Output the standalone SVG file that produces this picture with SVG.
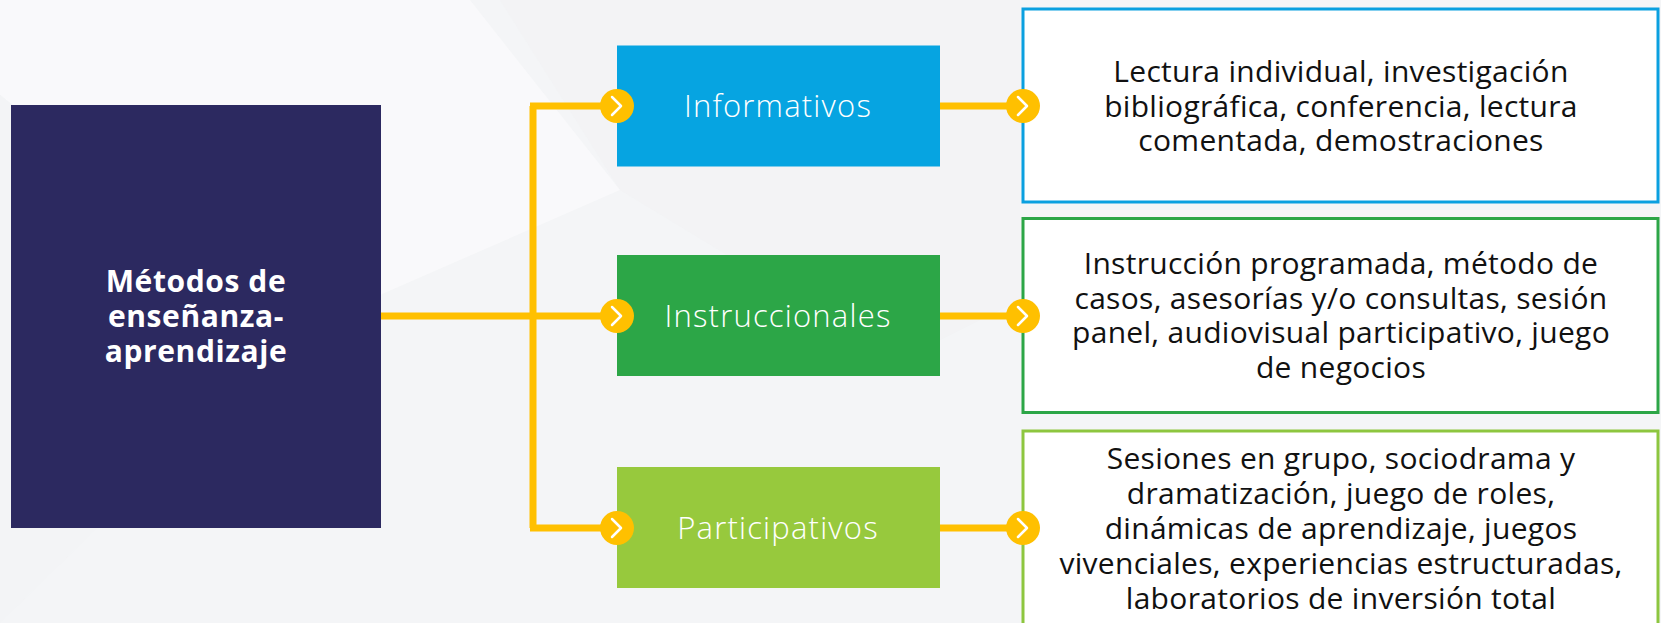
<svg xmlns="http://www.w3.org/2000/svg" width="1661" height="623" viewBox="0 0 1661 623">
<style>
.bg{fill:#F4F5F7}
.conn{stroke:#FFC000;stroke-width:7;fill:none}
.dot{fill:#FFC000}
.chev{stroke:#FFFFFF;stroke-width:2.5;fill:none;stroke-linecap:round;stroke-linejoin:round}
.main{font-family:"Open Sans","Liberation Sans",sans-serif;font-weight:700;font-size:30px;letter-spacing:0.6px;fill:#FFFFFF;text-anchor:middle}
.mid{font-family:"Open Sans","Liberation Sans",sans-serif;font-weight:300;font-size:31px;letter-spacing:1.2px;fill:#FFFFFF;text-anchor:middle}
.desc{font-family:"Open Sans","Liberation Sans",sans-serif;font-weight:400;font-size:30px;letter-spacing:0.3px;fill:#111111;text-anchor:middle}
.dbox{fill:#FFFFFF;stroke-width:3}
</style>
<defs>
<g id="arrowDot">
<circle class="dot" cx="0" cy="0" r="17"/>
<polyline class="chev" points="-5,-9 4,0 -5,9"/>
</g>
</defs>
<rect class="bg" x="0" y="0" width="1661" height="623"/>
<polygon points="0,0 470,0 620,190 300,330 0,95" fill="#FAFAFB" opacity="0.8"/>
<polygon points="0,95 300,330 0,623" fill="#F2F3F5" opacity="0.6"/>
<polygon points="620,190 900,360 1020,300 1020,0 500,0" fill="#F1F2F4" opacity="0.5"/>

<g id="connectors">
<path class="conn" d="M381 316 H605"/>
<path class="conn" d="M533 106 V528"/>
<path class="conn" d="M530 106 H605"/>
<path class="conn" d="M530 528 H605"/>
<path class="conn" d="M940 106 H1010"/>
<path class="conn" d="M940 316 H1010"/>
<path class="conn" d="M940 528 H1010"/>
</g>

<g id="node-main">
<rect x="11" y="105" width="370" height="423" fill="#2C2960"/>
<text class="main" x="196" y="292">Métodos de</text>
<text class="main" x="196" y="327">enseñanza-</text>
<text class="main" x="196" y="362">aprendizaje</text>
</g>

<g id="node-informativos">
<rect x="617" y="45.5" width="323" height="121" fill="#06A4E1"/>
<text class="mid" x="778" y="117">Informativos</text>
<use href="#arrowDot" x="617" y="106"/>
</g>

<g id="node-instruccionales">
<rect x="617" y="255" width="323" height="121" fill="#2CA647"/>
<text class="mid" x="778" y="327">Instruccionales</text>
<use href="#arrowDot" x="617" y="316"/>
</g>

<g id="node-participativos">
<rect x="617" y="467" width="323" height="121" fill="#97C93D"/>
<text class="mid" x="778" y="539">Participativos</text>
<use href="#arrowDot" x="617" y="528"/>
</g>

<g id="desc-informativos">
<rect class="dbox" x="1023" y="9" width="635" height="193" stroke="#0AA0E0"/>
<text class="desc" x="1341" y="82">Lectura individual, investigación</text>
<text class="desc" x="1341" y="116.5">bibliográfica, conferencia, lectura</text>
<text class="desc" x="1341" y="151">comentada, demostraciones</text>
<use href="#arrowDot" x="1023" y="106"/>
</g>

<g id="desc-instruccionales">
<rect class="dbox" x="1023" y="218.5" width="635" height="194" stroke="#2CA647"/>
<text class="desc" x="1341" y="274">Instrucción programada, método de</text>
<text class="desc" x="1341" y="308.5">casos, asesorías y/o consultas, sesión</text>
<text class="desc" x="1341" y="343">panel, audiovisual participativo, juego</text>
<text class="desc" x="1341" y="377.5">de negocios</text>
<use href="#arrowDot" x="1023" y="316"/>
</g>

<g id="desc-participativos">
<rect class="dbox" x="1023" y="431" width="635" height="200" stroke="#8DC63F"/>
<text class="desc" x="1341" y="469">Sesiones en grupo, sociodrama y</text>
<text class="desc" x="1341" y="504">dramatización, juego de roles,</text>
<text class="desc" x="1341" y="539">dinámicas de aprendizaje, juegos</text>
<text class="desc" x="1341" y="574">vivenciales, experiencias estructuradas,</text>
<text class="desc" x="1341" y="608.5">laboratorios de inversión total</text>
<use href="#arrowDot" x="1023" y="528"/>
</g>
</svg>
